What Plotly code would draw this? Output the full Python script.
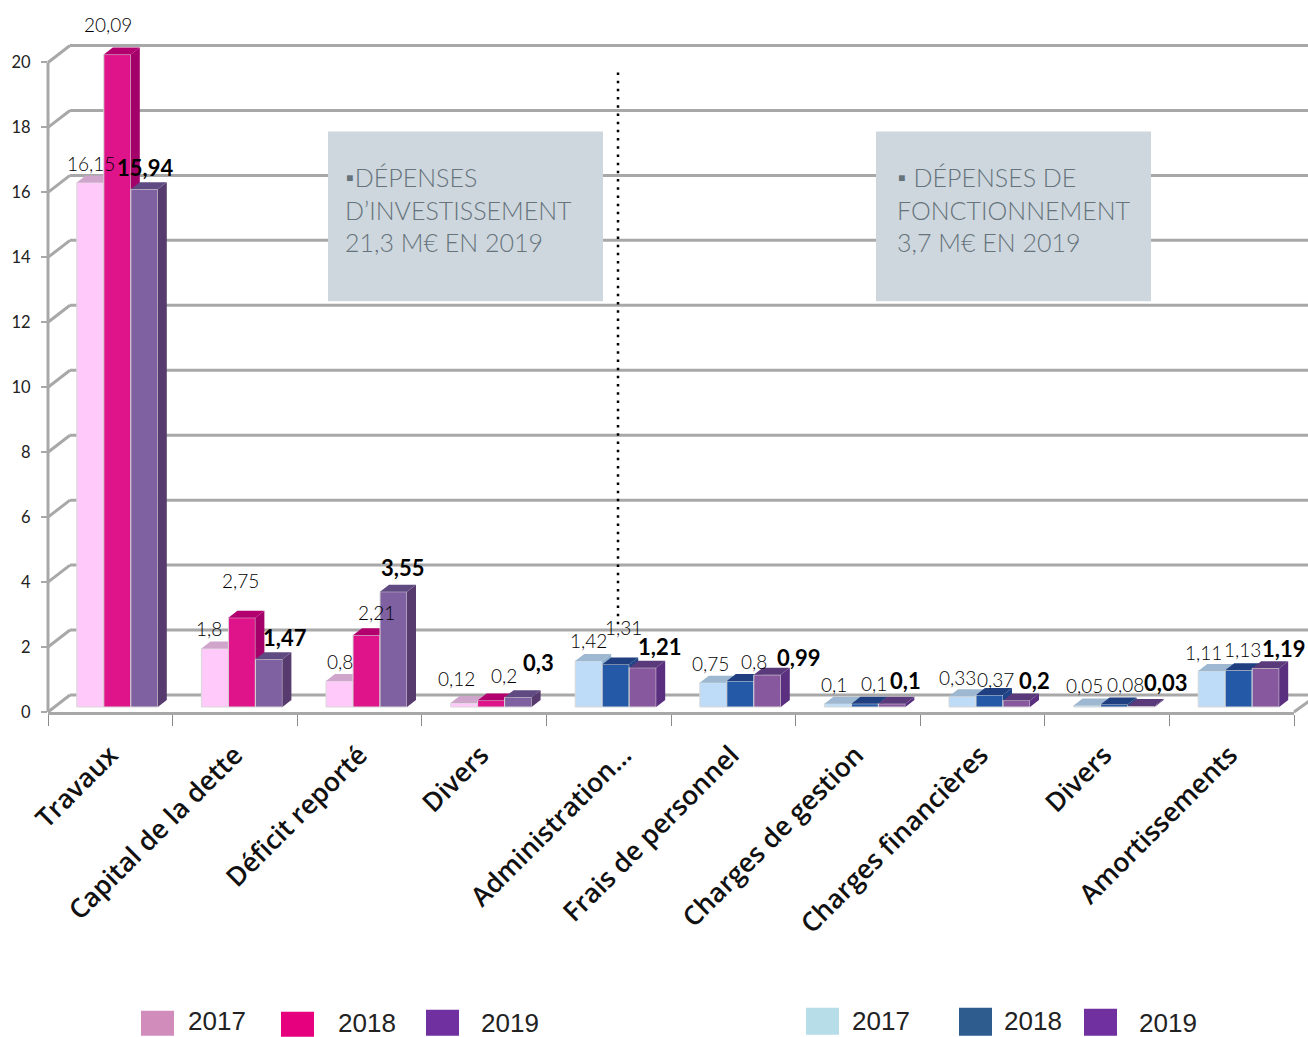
import plotly.graph_objects as go

# ---- data ----
CATEGORIES = ["Travaux", "Capital de la dette", "Déficit reporté", "Divers", "Administration…",
              "Frais de personnel", "Charges de gestion", "Charges financières", "Divers", "Amortissements"]
VALUES_2017 = [16.15, 1.8, 0.8, 0.12, 1.42, 0.75, 0.1, 0.33, 0.05, 1.11]
VALUES_2018 = [20.09, 2.75, 2.21, 0.2, 1.31, 0.8, 0.1, 0.37, 0.08, 1.13]
VALUES_2019 = [15.94, 1.47, 3.55, 0.3, 1.21, 0.99, 0.1, 0.2, 0.03, 1.19]
LABELS_2017 = ["16,15", "1,8", "0,8", "0,12", "1,42", "0,75", "0,1", "0,33", "0,05", "1,11"]
LABELS_2018 = ["20,09", "2,75", "2,21", "0,2", "1,31", "0,8", "0,1", "0,37", "0,08", "1,13"]
LABELS_2019 = ["15,94", "1,47", "3,55", "0,3", "1,21", "0,99", "0,1", "0,2", "0,03", "1,19"]
BOX_LEFT = ["▪DÉPENSES", "D’INVESTISSEMENT", "21,3 M€ EN 2019"]
BOX_RIGHT = ["▪ DÉPENSES DE", "FONCTIONNEMENT", "3,7 M€ EN 2019"]
Y_TICKS = [0, 2, 4, 6, 8, 10, 12, 14, 16, 18, 20]

# ---- styles and layout ----
W, H = 1308, 1037
Y_MAX = 21
PX_Y = 32.5
ZERO_PX = 712
L, R, B = 48, 14, H - ZERO_PX
T = ZERO_PX - Y_MAX * PX_Y
PX_X = (W - L - R) / 10
GREY = "#A8A8A8"
TEXT = "#222222"
FONT = "Lato, 'Open Sans', sans-serif"
INV = 4  # the first four categories use the investment palette
FRONT = [["#FFC9FA"] * INV + ["#BEDCF7"] * 6, ["#E0148A"] * INV + ["#2459A8"] * 6, ["#7F60A0"] * INV + ["#88589F"] * 6]
SIDE = [["#C89AC4"] * INV + ["#8FB0CC"] * 6, ["#A3006A"] * INV + ["#1E4488"] * 6, ["#583B6E"] * INV + ["#5A2F80"] * 6]
TOP = [["#CFA5CC"] * INV + ["#9DB8D0"] * 6, ["#B3006F"] * INV + ["#1F3F80"] * 6, ["#5F4A82"] * INV + ["#5A3A7A"] * 6]
BAR_W = 27 / PX_X
DEPTH_X, DEPTH_Y = 9 / PX_X, 7 / PX_Y
BASE = 5 / PX_Y
OFFSETS = [(-33.5) / PX_X, (-6.5) / PX_X, (20.5) / PX_X]
SERIES = [VALUES_2017, VALUES_2018, VALUES_2019]
TEXTS = [LABELS_2017, LABELS_2018, LABELS_2019]
LABEL_SHIFT = [
    [(1, 19), (-6, 20), (0, 20), (-8, 25), (0, 20), (-3, 19), (-4, 19), (-5, 19), (-3, 20), (-8, 18)],
    [(-9, 30), (-1, 37), (10, 23), (13, 25), (8, 37), (14, 20), (9, 20), (6, 15), (11, 20), (4, 21)],
    [(1, 22), (16, 22), (9, 24), (20, 35), (17, 21), (31, 17), (14, 23), (18, 20), (24, 24), (18, 20)],
]
TICK_NUDGE_PX = [0, 0, 0, -3, 15, -2, -2, -2, -3, -2]


def xp(px):
    return (px - L) / (W - L - R)


def yp(px):
    return (H - B - px) / (H - T - B)


fig = go.Figure()
for s, values in enumerate(SERIES):
    suffix = "" if s == 0 else str(s + 1)
    xa, ya = "x" + suffix, "y" + suffix
    xs = list(range(len(values)))
    fig.add_trace(go.Bar(x=xs, y=values, base=BASE, width=BAR_W, offset=OFFSETS[s], xaxis=xa, yaxis=ya,
                         marker=dict(color=FRONT[s], line=dict(color="#D8D8D8", width=1)),
                         cliponaxis=False, name=str(2017 + s), showlegend=False, hoverinfo="skip"))
    for i, v in enumerate(values):
        x0 = i + OFFSETS[s]
        x1 = x0 + BAR_W
        y1 = BASE + v
        fig.add_trace(go.Scatter(
            x=[x1, x1 + DEPTH_X, x1 + DEPTH_X, x1, x1], y=[BASE, BASE + DEPTH_Y, y1 + DEPTH_Y, y1, BASE],
            fill="toself", mode="lines", line=dict(width=0), fillcolor=SIDE[s][i],
            xaxis=xa, yaxis=ya, cliponaxis=False, showlegend=False, hoverinfo="skip"))
        fig.add_trace(go.Scatter(
            x=[x0, x0 + DEPTH_X, x1 + DEPTH_X, x1, x0], y=[y1, y1 + DEPTH_Y, y1 + DEPTH_Y, y1, y1],
            fill="toself", mode="lines", line=dict(width=0), fillcolor=TOP[s][i],
            xaxis=xa, yaxis=ya, cliponaxis=False, showlegend=False, hoverinfo="skip"))

shapes, annotations = [], []


def line(x0, y0, x1, y1, color=GREY, width=3, dash="solid"):
    shapes.append(dict(type="line", xref="paper", yref="paper", x0=xp(x0), x1=xp(x1), y0=yp(y0), y1=yp(y1),
                       layer="below", line=dict(color=color, width=width, dash=dash)))


def rect(x0, y0, x1, y1, color):
    shapes.append(dict(type="rect", xref="paper", yref="paper", x0=xp(x0), x1=xp(x1), y0=yp(y0), y1=yp(y1),
                       layer="below", fillcolor=color, line=dict(width=0)))


def text(px, py, s, size, color=TEXT, font=FONT, anchor="center", align="center", weight=None):
    annotations.append(dict(xref="paper", yref="paper", x=xp(px), y=yp(py), text=s, showarrow=False, xanchor=anchor,
                            yanchor="middle", align=align, font=dict(size=size, color=color, family=font, weight=weight)))


for t in Y_TICKS:
    py = ZERO_PX - t * PX_Y
    line(48, py, 70, py - 17)
    line(70, py - 17, W, py - 17)
line(48, ZERO_PX, 48, ZERO_PX - 20 * PX_Y)
line(1294, ZERO_PX, W + 8, ZERO_PX - 16)

rect(328, 131, 603, 301, "#CED7DE")
rect(876, 131, 1151, 301, "#CED7DE")
BOX_TEXT = "#66737B"
text(343, 209, "<br>".join(BOX_LEFT), 25, BOX_TEXT, FONT, "left", "left", 300)
text(895, 209, "<br>".join(BOX_RIGHT), 25, BOX_TEXT, FONT, "left", "left", 300)
line(618, 72, 618, 625, "#000000", 2.5, "2.5px,5.7px")

for s, values in enumerate(SERIES):
    for i, v in enumerate(values):
        dx, dy = LABEL_SHIFT[s][i]
        annotations.append(dict(x=i + OFFSETS[s] + BAR_W / 2, y=BASE + v, text=f"<b>{TEXTS[s][i]}</b>" if s == 2 else TEXTS[s][i],
                                showarrow=False, xshift=dx, yshift=dy, xanchor="center", yanchor="middle",
                                font=dict(size=22 if s == 2 else 19, color="#000000", family=FONT,
                                          weight=None if s == 2 else 300)))

LEGEND = [(141, 1011, 174, 1036, "#D28CBB", 217, 1021, "2017"), (281, 1012, 314, 1037, "#E6007E", 367, 1023, "2018"),
          (426, 1010, 459, 1036, "#7030A0", 510, 1023, "2019"), (806, 1008, 839, 1035, "#B7DDE8", 881, 1021, "2017"),
          (959, 1008, 992, 1036, "#2F5C8F", 1033, 1021, "2018"), (1084, 1009, 1117, 1036, "#7030A0", 1168, 1023, "2019")]
for x0, y0, x1, y1, c, tx, ty, label in LEGEND:
    rect(x0, y0, x1, y1, c)
    text(tx, ty, label, 26, "#222222", "'Liberation Sans', Arial, sans-serif")

ticks_at = [i - 0.5 for i in range(len(CATEGORIES) + 1)]
label_at = [i + TICK_NUDGE_PX[i] / PX_X for i in range(len(CATEGORIES))]
layout = dict(
    width=W, height=H, margin=dict(l=L, r=R, t=T, b=B, pad=0), paper_bgcolor="white", plot_bgcolor="rgba(0,0,0,0)",
    showlegend=False, barmode="overlay", shapes=shapes, annotations=annotations,
    xaxis=dict(range=[-0.5, 9.5], automargin=False, tickvals=label_at, ticktext=CATEGORIES, tickangle=-45, ticks="",
               tickfont=dict(size=26.5, color="#111111", family="'Open Sans', sans-serif", weight=600), showgrid=False, zeroline=False,
               showline=True, linecolor=GREY, linewidth=3, ticklabelstandoff=14,
               minor=dict(tickvals=ticks_at, ticks="outside", ticklen=11, tickcolor="#8A8A8A", tickwidth=1, showgrid=False)),
    yaxis=dict(range=[0, Y_MAX], automargin=False, tickvals=Y_TICKS, ticks="outside", ticklen=6, tickcolor=GREY, tickwidth=2, showgrid=False,
               zeroline=False, showline=False, ticklabelstandoff=7,
               tickfont=dict(size=16.5, color=TEXT, family=FONT)),
)
for k in (2, 3):
    layout[f"xaxis{k}"] = dict(range=[-0.5, 9.5], overlaying="x", visible=False, anchor=f"y{k}")
    layout[f"yaxis{k}"] = dict(range=[0, Y_MAX], overlaying="y", visible=False, anchor=f"x{k}")
fig.update_layout(**layout)
fig.write_html("out.html", post_script="document.body.style.margin='0';", config={"displayModeBar": False})
